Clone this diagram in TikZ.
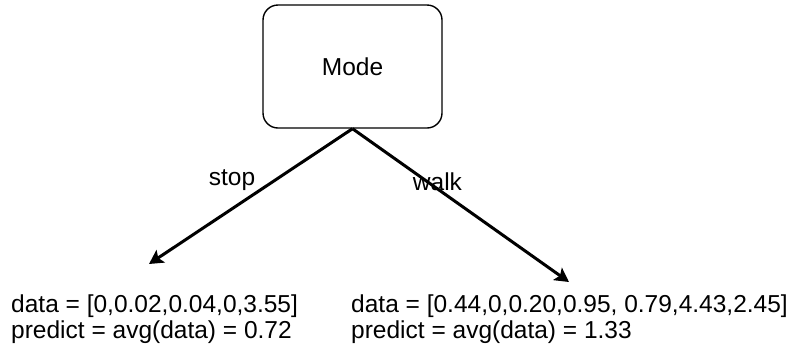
\documentclass[tikz,border=0pt]{standalone}
\usepackage{fontspec}
\setmainfont{Liberation Sans}
\usetikzlibrary{arrows.meta}
\begin{document}
\begin{tikzpicture}[x=1pt,y=-1pt,
  txt/.style={font=\fontsize{24.5}{28}\selectfont, inner sep=0pt},
  box/.style={draw, line width=1.4pt, rounded corners=15pt, minimum width=179pt, minimum height=123pt, inner sep=0pt, font=\fontsize{24.5}{28}\selectfont},
  arr/.style={line width=3pt, -{Stealth[length=14pt,width=15pt,inset=3pt]}}]
\useasboundingbox (0,0) rectangle (790,349);
\node[box] (mode) at (352.5,66.5) {Mode};
\coordinate (tipL) at (149,264);
\coordinate (tipR) at (569,282);
\draw[arr] (mode.south) -- (tipL);
\draw[arr] (mode.south) -- (tipR);
\node[txt, anchor=base] (stop) at (232,185) {stop};
\node[txt, anchor=base] (walk) at (437.5,190) {walk};
\node[txt, anchor=base west] (dataL) at (11,312) {data = [0,0.02,0.04,0,3.55]};
\node[txt, anchor=base west] (predL) at (11,338) {predict = avg(data) = 0.72};
\node[txt, anchor=base west] (dataR) at (351,312) {data = [0.44,0,0.20,0.95, 0.79,4.43,2.45]};
\node[txt, anchor=base west] (predR) at (351,338) {predict = avg(data) = 1.33};
\end{tikzpicture}
\end{document}
